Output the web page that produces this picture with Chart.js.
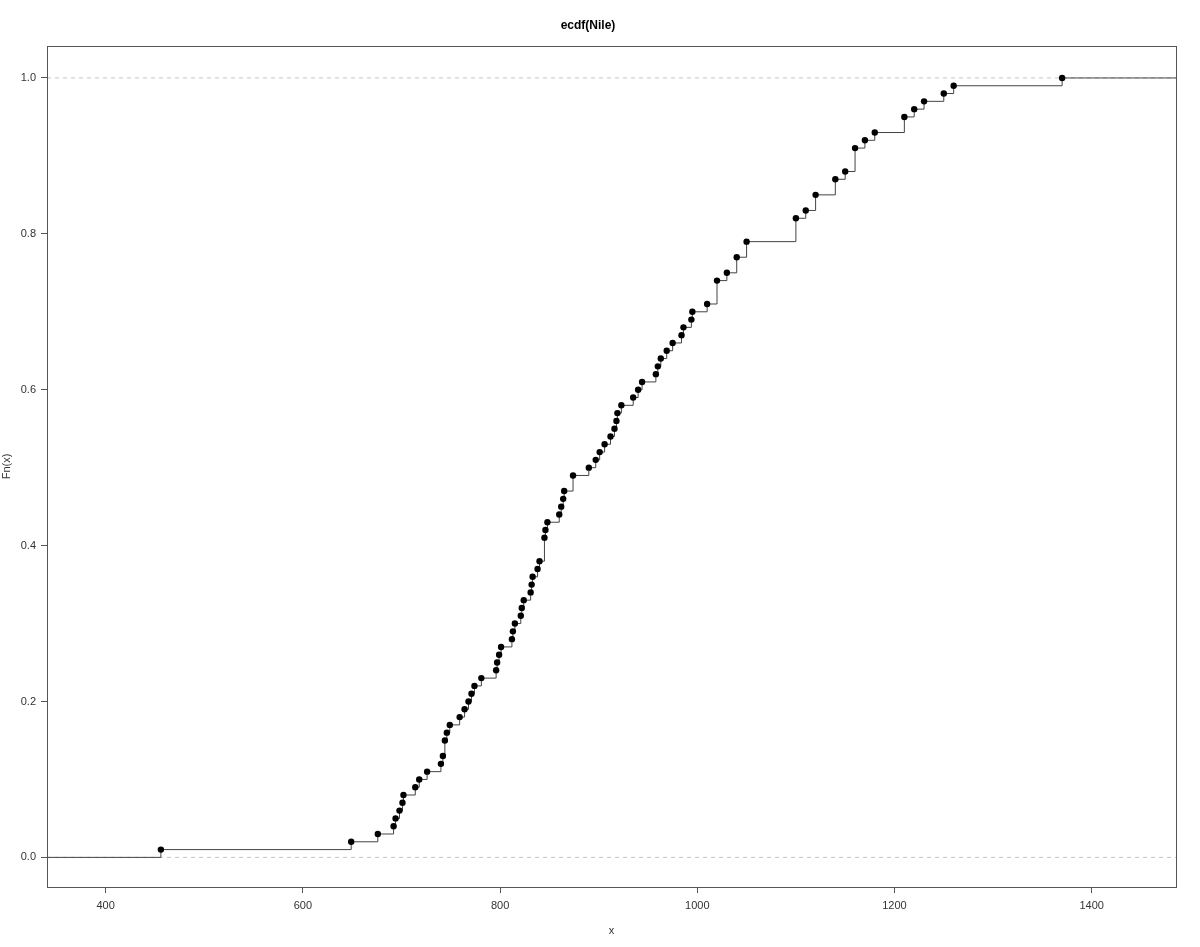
<!DOCTYPE html>
<html lang="en">
<head>
    <meta charset="UTF-8">
    <title>ecdf(Nile)</title>
    <script src="https://cdn.jsdelivr.net/npm/chart.js"></script>
    <style>
        html, body { margin: 0; padding: 0; background: #fff; }
        #wrap { width: 1200px; height: 947px; }
    </style>
</head>
<body>
    <div id="wrap"><canvas id="ecdfChart" width="1200" height="947"></canvas></div>

    <script>
        // knots of ecdf(Nile) and the step heights
        const knots = [456, 649, 676, 692, 694, 698, 701, 702, 714, 718, 726, 740, 742, 744, 746, 749,
            759, 764, 768, 771, 774, 781, 796, 797, 799, 801, 812, 813, 815, 821, 822, 824, 831, 832,
            833, 838, 840, 845, 846, 848, 860, 862, 864, 865, 874, 890, 897, 901, 906, 912, 916, 918,
            919, 923, 935, 940, 944, 958, 960, 963, 969, 975, 984, 986, 994, 995, 1010, 1020, 1030,
            1040, 1050, 1100, 1110, 1120, 1140, 1150, 1160, 1170, 1180, 1210, 1220, 1230, 1250, 1260, 1370];
        const fn = [0.01, 0.02, 0.03, 0.04, 0.05, 0.06, 0.07, 0.08, 0.09, 0.10, 0.11, 0.12, 0.13, 0.15,
            0.16, 0.17, 0.18, 0.19, 0.20, 0.21, 0.22, 0.23, 0.24, 0.25, 0.26, 0.27, 0.28, 0.29, 0.30,
            0.31, 0.32, 0.33, 0.34, 0.35, 0.36, 0.37, 0.38, 0.41, 0.42, 0.43, 0.44, 0.45, 0.46, 0.47,
            0.49, 0.50, 0.51, 0.52, 0.53, 0.54, 0.55, 0.56, 0.57, 0.58, 0.59, 0.60, 0.61, 0.62, 0.63,
            0.64, 0.65, 0.66, 0.67, 0.68, 0.69, 0.70, 0.71, 0.74, 0.75, 0.77, 0.79, 0.82, 0.83, 0.85,
            0.87, 0.88, 0.91, 0.92, 0.93, 0.95, 0.96, 0.97, 0.98, 0.99, 1.00];
        const xTicks = [400, 600, 800, 1000, 1200, 1400];
        const yTicks = [0.0, 0.2, 0.4, 0.6, 0.8, 1.0];
        const refLines = [0, 1];

        const xMin = 340.5, xMax = 1485.5;
        const yMin = -0.038, yMax = 1.041;

        const points = knots.map((k, i) => ({x: k, y: fn[i]}));
        // step line runs from the left edge at 0 to the right edge at 1
        const stepData = [{x: xMin, y: 0}].concat(points, [{x: xMax, y: fn[fn.length - 1]}]);

        const refSets = refLines.map(h => ({
            type: 'line',
            data: [{x: xMin, y: h}, {x: xMax, y: h}],
            borderColor: '#c4c4c4',
            borderWidth: 1,
            borderDash: [4, 4],
            pointRadius: 0,
            order: 3
        }));

        const boxPlugin = {
            id: 'box',
            afterDraw(chart) {
                const a = chart.chartArea;
                const ctx = chart.ctx;
                ctx.save();
                ctx.strokeStyle = '#555';
                ctx.lineWidth = 1;
                ctx.strokeRect(Math.round(a.left) + 0.5, Math.round(a.top) + 0.5,
                    Math.round(a.right - a.left), Math.round(a.bottom - a.top));
                ctx.restore();
            }
        };

        const ctx = document.getElementById('ecdfChart').getContext('2d');
        new Chart(ctx, {
            data: {
                datasets: refSets.concat([
                    {
                        type: 'line',
                        data: stepData,
                        stepped: 'before',
                        borderColor: '#444',
                        borderWidth: 1,
                        pointRadius: 0,
                        order: 2
                    },
                    {
                        type: 'scatter',
                        data: points,
                        backgroundColor: '#000',
                        borderColor: '#000',
                        borderWidth: 0,
                        pointRadius: 3.2,
                        order: 1
                    }
                ])
            },
            options: {
                responsive: false,
                animation: false,
                layout: { padding: { left: 0, right: 24, top: 0, bottom: 0 } },
                plugins: {
                    legend: { display: false },
                    tooltip: { enabled: false },
                    title: {
                        display: true,
                        text: 'ecdf(Nile)',
                        color: '#000',
                        font: { family: 'Liberation Sans', size: 12, weight: 'bold' },
                        padding: { top: 18, bottom: 13.6 }
                    }
                },
                scales: {
                    x: {
                        type: 'linear',
                        min: xMin,
                        max: xMax,
                        afterBuildTicks: s => { s.ticks = xTicks.map(v => ({value: v})); },
                        afterFit: s => { s.height = 60; },
                        grid: { drawOnChartArea: false, drawTicks: true, tickLength: 6, color: '#555' },
                        border: { display: false },
                        ticks: {
                            color: '#333',
                            padding: 6,
                            maxRotation: 0,
                            font: { family: 'Liberation Sans', size: 11 },
                            callback: v => String(v)
                        },
                        title: {
                            display: true,
                            text: 'x',
                            color: '#333',
                            padding: { top: 1, bottom: 9 },
                            font: { family: 'Liberation Sans', size: 11 }
                        }
                    },
                    y: {
                        type: 'linear',
                        min: yMin,
                        max: yMax,
                        afterBuildTicks: s => { s.ticks = yTicks.map(v => ({value: v})); },
                        afterFit: s => { s.width = 47; },
                        grid: { drawOnChartArea: false, drawTicks: true, tickLength: 6, color: '#555' },
                        border: { display: false },
                        ticks: {
                            color: '#333',
                            padding: 5,
                            font: { family: 'Liberation Sans', size: 11 },
                            callback: v => v.toFixed(1)
                        },
                        title: {
                            display: true,
                            text: 'Fn(x)',
                            color: '#333',
                            padding: { top: 0, bottom: 0 },
                            font: { family: 'Liberation Sans', size: 11 }
                        }
                    }
                }
            },
            plugins: [boxPlugin]
        });
    </script>
</body>
</html>
